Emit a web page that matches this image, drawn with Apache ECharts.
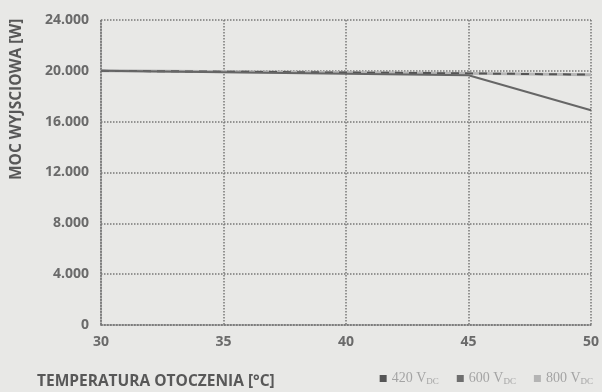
<!DOCTYPE html>
<html><head><meta charset="utf-8">
<script src="https://cdn.jsdelivr.net/npm/echarts@6/dist/echarts.min.js"></script>
<style>html,body{margin:0;padding:0;background:#e8e8e6;}#c{width:602px;height:392px;}</style>
</head><body><div id="c"></div>
<script>
var temps = [30, 45, 50];
var s420 = [20000, 19650, 16900];
var s600 = [20000, 19800, 19700];
var s800 = [20000, 19800, 19700];
var seriesNames = ['420 V', '600 V', '800 V'];
var yTicks = [0, 4000, 8000, 12000, 16000, 20000, 24000];
var xTicks = [30, 35, 40, 45, 50];

var chart = echarts.init(document.getElementById('c'));
function fmt(v){ return v === 0 ? '0' : String(v).replace(/(\d)(?=(\d{3})+$)/g, '$1.'); }
chart.setOption({
  backgroundColor: '#e8e8e6',
  animation: false,
  grid: {left: 101, right: 6, top: 20, bottom: 67},
  xAxis: {
    type: 'value', min: 30, max: 50, interval: 5,
    axisLine: {show: true, lineStyle: {color: '#777', type: 'dotted', width: 1.5}},
    axisTick: {show: false},
    splitLine: {show: true, lineStyle: {color: '#777', type: 'dotted', width: 1.5}},
    axisLabel: {color: '#6a6a6a', fontFamily: 'Open Sans', fontWeight: 'bold', fontSize: 14, margin: 10}
  },
  yAxis: {
    type: 'value', min: 0, max: 24000, interval: 4000,
    axisLine: {show: true, lineStyle: {color: '#777', type: 'dotted', width: 1.5}},
    axisTick: {show: false},
    splitLine: {show: true, lineStyle: {color: '#777', type: 'dotted', width: 1.5}},
    axisLabel: {color: '#6a6a6a', fontFamily: 'Open Sans', fontWeight: 'bold', fontSize: 14, margin: 12, formatter: fmt}
  },
  legend: {
    right: 4, bottom: 1, icon: 'rect', itemWidth: 7, itemHeight: 7, itemGap: 18,
    data: seriesNames,
    formatter: function(n){ return '{a|' + n + '}{s|DC}'; },
    textStyle: {
      color: '#a4a4a4', fontFamily: 'Liberation Serif', fontSize: 14,
      rich: {a: {color: '#a4a4a4', fontFamily: 'Liberation Serif', fontSize: 14},
             s: {color: '#a4a4a4', fontFamily: 'Liberation Serif', fontSize: 9, verticalAlign: 'bottom', padding: [6, 0, 0, 0]}}
    }
  },
  graphic: [
    {type: 'text', x: 37, y: 374, style: {text: 'TEMPERATURA OTOCZENIA [°C]', fill: '#585858', font: 'bold 15.5px "Open Sans"', verticalAlign: 'top'}},
    {type: 'text', x: 9, y: 180, rotation: Math.PI / 2, style: {text: 'MOC WYJSCIOWA [W]', fill: '#585858', font: 'bold 15.5px "Open Sans"', align: 'left', verticalAlign: 'top'}}
  ],
  series: [
    {name: seriesNames[2], type: 'line', symbol: 'none', data: temps.map(function(t,i){return [t, s800[i]];}),
     itemStyle: {color: '#b4b4b4'}, lineStyle: {color: '#b4b4b4', width: 3}, z: 2},
    {name: seriesNames[1], type: 'line', symbol: 'none', data: temps.map(function(t,i){return [t, s600[i]];}),
     itemStyle: {color: '#6e6e6e'}, lineStyle: {color: '#555', width: 2, type: [8, 6]}, z: 3},
    {name: seriesNames[0], type: 'line', symbol: 'none', data: temps.map(function(t,i){return [t, s420[i]];}),
     itemStyle: {color: '#555'}, lineStyle: {color: '#666', width: 2}, z: 4}
  ]
});
</script></body></html>
